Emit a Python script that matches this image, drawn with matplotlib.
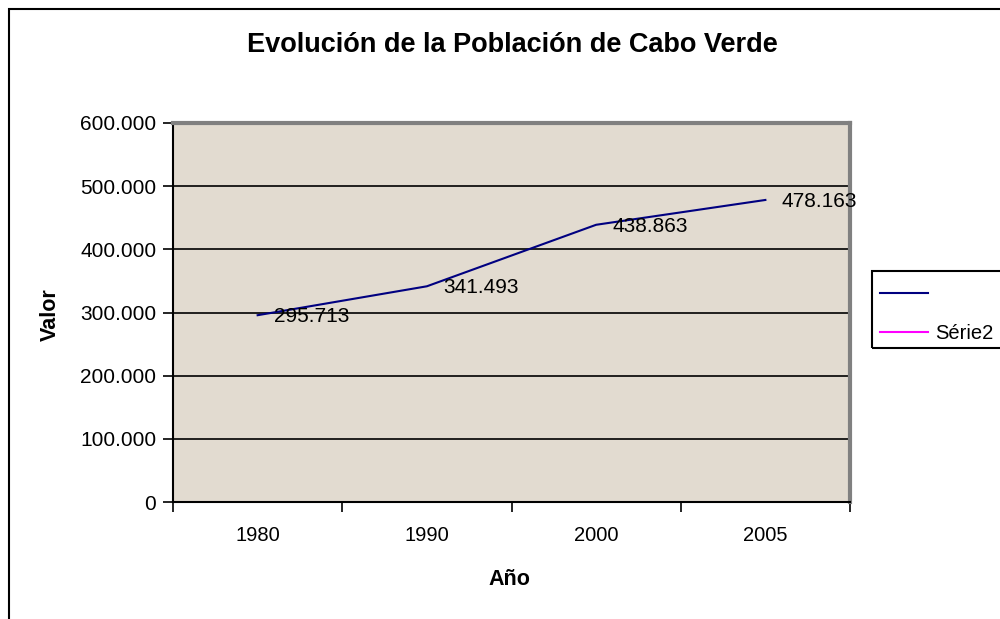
import matplotlib.pyplot as plt
from matplotlib.patches import Rectangle
from matplotlib.ticker import FuncFormatter, FixedLocator, NullFormatter

plt.rcParams['font.family'] = ['Liberation Sans', 'DejaVu Sans']

years = ["1980", "1990", "2000", "2005"]
poblacion = [295713, 341493, 438863, 478163]
y_ticks = [0, 100000, 200000, 300000, 400000, 500000, 600000]


def miles(v, pos=None):
    # Excel style thousands separator with dots
    return f"{int(v):,}".replace(",", ".")


fig = plt.figure(figsize=(10, 6.19), dpi=100)
W, H = 1000, 619
ax = fig.add_axes([173 / W, 1 - 502 / H, (850 - 173) / W, (502 - 123) / H])
ax.set_facecolor("#E2DBD0")

x = list(range(len(years)))
ax.plot(x, poblacion, color="#000080", linewidth=1.5, label=" ", zorder=3)
ax.plot([], [], color="#FF00FF", linewidth=1.5, label="Série2")

for xi, v in zip(x, poblacion):
    ax.annotate(miles(v), (xi, v), xytext=(11.5, -1), textcoords="offset points",
                ha="left", va="center", fontsize=15, color="black", zorder=4,
                annotation_clip=False)

ax.set_xlim(-0.5, len(years) - 0.5)
ax.set_ylim(0, 600000)
ax.set_yticks(y_ticks)
ax.yaxis.set_major_formatter(FuncFormatter(miles))
ax.grid(axis="y", color="black", linewidth=1.2)
ax.set_axisbelow(True)

# category labels centred, ticks on the bin boundaries
ax.xaxis.set_major_locator(FixedLocator([i - 0.5 for i in range(len(years) + 1)]))
ax.xaxis.set_major_formatter(NullFormatter())
ax.xaxis.set_minor_locator(FixedLocator(x))
ax.set_xticklabels(years, minor=True)
ax.tick_params(axis="x", which="minor", length=0, pad=17, labelsize=14.5)
ax.tick_params(axis="x", which="major", length=7, width=1.2, direction="out")
ax.tick_params(axis="y", length=7, width=1.2, labelsize=15, pad=5)

for side in ["left", "bottom"]:
    ax.spines[side].set_color("black")
    ax.spines[side].set_linewidth(1.5)
for side in ["top", "right"]:
    ax.spines[side].set_color("#808080")
    ax.spines[side].set_linewidth(3)

ax.set_xlabel("Año", fontsize=15.5, fontweight="bold")
ax.xaxis.set_label_coords((509 - 173) / 677, (502 - 569) / 379)
ax.set_ylabel("Valor", fontsize=15.5, fontweight="bold")
ax.yaxis.set_label_coords((61 - 173) / 677, (502 - 315) / 379)
fig.text(512 / W, 1 - 45 / H, "Evolución de la Población de Cabo Verde",
         ha="center", va="center", fontsize=19.5, fontweight="bold")

leg = fig.legend(loc="upper left", bbox_to_anchor=(866 / W, 1 - 271 / H),
                 frameon=False, fontsize=14.5, handlelength=2.4,
                 labelspacing=1.0, borderpad=0.2, handletextpad=0.35)

# legend box, running past the right edge as in the original
fig.patches.append(Rectangle((872 / W, 1 - 348 / H), 0.2, 77 / H,
                             transform=fig.transFigure, fill=False,
                             edgecolor="black", linewidth=1.5))

# outer chart border (cut off at right and bottom like the original)
fig.patches.append(Rectangle((9 / W, -0.1), 1.2, 1 - 9 / H + 0.1,
                             transform=fig.transFigure, fill=False,
                             edgecolor="black", linewidth=1.5))

fig.savefig("out.png", dpi=100)
